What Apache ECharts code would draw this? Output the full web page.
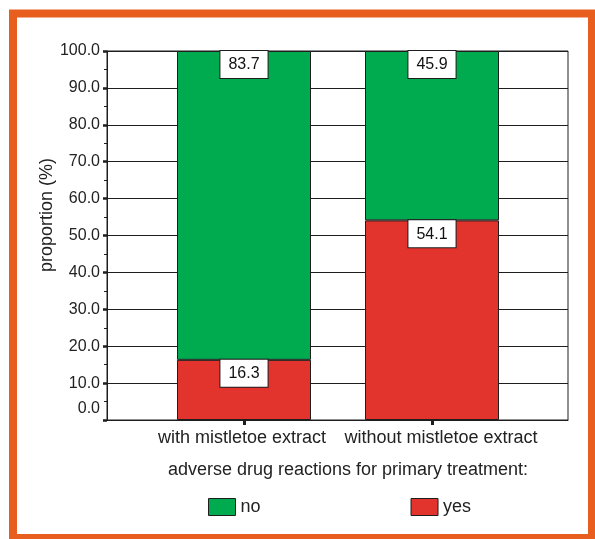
<!DOCTYPE html>
<html>
<head>
<meta charset="utf-8">
<script src="https://cdn.jsdelivr.net/npm/echarts@6/dist/echarts.min.js"></script>
<style>
  html, body { margin: 0; padding: 0; background: #fff; }
  #chart { width: 595px; height: 539px; }
</style>
</head>
<body>
<div id="chart"></div>
<script>
// Treatment groups on the x axis
const categories = ['with mistletoe extract', 'without mistletoe extract'];
// Proportion (%) of patients with / without adverse drug reactions
const yesValues = [16.3, 54.1];
const noValues = [83.7, 45.9];
const seriesNames = ['no', 'yes'];
const axisTitle = 'adverse drug reactions for primary treatment:';
const yAxisName = 'proportion (%)';

const FONT = '"Liberation Sans", Arial, Helvetica, sans-serif';
const GREEN = '#00AB4F';
const RED = '#E2332C';
const INK = '#1e1e1e';

const chart = echarts.init(document.getElementById('chart'), null, { renderer: 'canvas' });

const barLabel = {
  show: true,
  position: 'insideTop',
  distance: 0,
  backgroundColor: '#fff',
  borderColor: INK,
  borderWidth: 1,
  padding: [5, 8, 4, 8],
  lineHeight: 18,
  fontSize: 16,
  fontFamily: FONT,
  color: '#111',
  formatter: p => p.value.toFixed(1)
};

const catText = { fontSize: 18, color: '#222', fontFamily: FONT };

chart.setOption({
  backgroundColor: '#fff',
  animation: false,
  textStyle: { fontFamily: FONT },
  grid: [
    // frame with the horizontal grid lines
    { left: 107, top: 51, width: 461, height: 369, show: true, borderColor: INK, borderWidth: 1, backgroundColor: '#fff' },
    // band holding the two bars
    { left: 150, top: 51, width: 376, height: 369 }
  ],
  xAxis: [
    {
      gridIndex: 0, type: 'value', min: 0, max: 1,
      axisLine: { show: true, lineStyle: { color: INK, width: 1 } },
      axisTick: { show: false }, axisLabel: { show: false }, splitLine: { show: false }
    },
    {
      gridIndex: 1, type: 'category', data: categories,
      axisLine: { show: false },
      axisTick: { show: true, alignWithLabel: true, length: 5, lineStyle: { color: INK, width: 3 } },
      axisLabel: {
        interval: 0, margin: 9, ...catText,
        // the two long names are nudged apart so they do not touch
        formatter: (v, i) => (i === 0 ? '{a|' : '{b|') + v + '}',
        rich: {
          a: { ...catText, padding: [0, 4, 0, 0] },
          b: { ...catText, padding: [0, 0, 0, 18] }
        }
      }
    }
  ],
  yAxis: [
    {
      gridIndex: 0, type: 'value', min: 0, max: 100, interval: 10,
      axisLine: { show: true, lineStyle: { color: INK, width: 1 } },
      axisTick: { show: true, length: 4, lineStyle: { color: INK, width: 2.5 } },
      minorTick: { show: true, splitNumber: 2, length: 3, lineStyle: { color: INK, width: 1 } },
      splitLine: { show: true, lineStyle: { color: INK, width: 1 } },
      axisLabel: {
        fontSize: 16, color: '#222', fontFamily: FONT, margin: 7,
        formatter: v => v === 0 ? '{z|0.0}' : v.toFixed(1),
        rich: { z: { fontSize: 16, color: '#222', fontFamily: FONT, padding: [0, 0, 22, 0] } }
      }
    },
    { gridIndex: 1, type: 'value', min: 0, max: 100, show: false }
  ],
  legend: {
    data: seriesNames,
    left: 208, top: 498, padding: 0,
    itemWidth: 27, itemHeight: 17, itemGap: 150,
    icon: 'rect',
    textStyle: { fontSize: 18, color: '#222', fontFamily: FONT },
    itemStyle: { borderColor: INK, borderWidth: 1 }
  },
  series: [
    {
      name: 'yes', type: 'bar', stack: 'total', xAxisIndex: 1, yAxisIndex: 1,
      data: yesValues, barWidth: 134,
      itemStyle: { color: RED, borderColor: INK, borderWidth: 1 },
      label: barLabel
    },
    {
      name: 'no', type: 'bar', stack: 'total', xAxisIndex: 1, yAxisIndex: 1,
      data: noValues, barWidth: 134,
      itemStyle: { color: GREEN, borderColor: INK, borderWidth: 1 },
      label: barLabel
    }
  ],
  graphic: [
    {
      type: 'text', x: 47, y: 215, rotation: Math.PI / 2,
      style: { text: yAxisName, fontSize: 18, fill: '#222', fontFamily: FONT, textAlign: 'center', textVerticalAlign: 'middle' }
    },
    {
      type: 'text', x: 348, y: 470,
      style: { text: axisTitle, fontSize: 18, fill: '#222', fontFamily: FONT, textAlign: 'center', textVerticalAlign: 'middle' }
    },
    {
      type: 'rect', z: 100, silent: true,
      shape: { x: 13, y: 13.5, width: 579, height: 524.5 },
      style: { fill: 'none', stroke: '#E85E1E', lineWidth: 8 }
    }
  ]
});
</script>
</body>
</html>
